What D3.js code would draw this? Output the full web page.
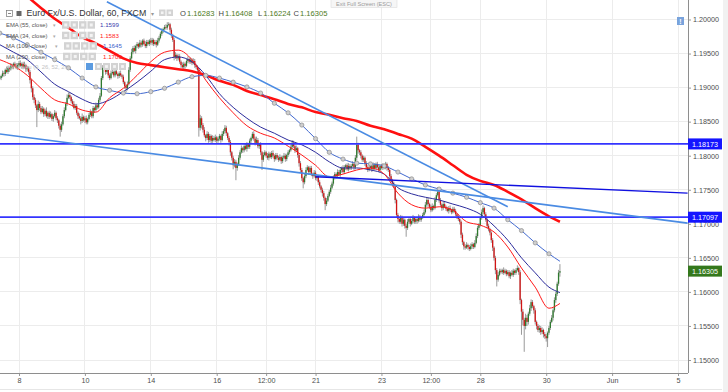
<!DOCTYPE html>
<html>
<head>
<meta charset="utf-8">
<title>Euro Fx/U.S. Dollar, 60</title>
<script src="https://cdn.jsdelivr.net/npm/d3@7"></script>
<style>
  body { margin: 0; background: #fff; }
  text { font-family: "Liberation Sans", Arial, sans-serif; }
</style>
</head>
<body>
<svg width="728" height="392" id="mainsvg"></svg>
<script>
// hourly bars, bar 0 = 8 May 00:00, weekends dropped
const firstBar = -14;
const closes = [
  1.1914, 1.1917, 1.1921, 1.1920, 1.1926, 1.1923, 1.1929, 1.1927, 1.1932, 1.1930, 1.1935, 1.1932, 1.1929, 1.1933,
  1.1936, 1.1932, 1.1935, 1.1930, 1.1933, 1.1927, 1.1929,
  1.1923, 1.1911, 1.1899, 1.1886, 1.1882,
  1.1874, 1.1867, 1.1876, 1.1870,
  1.1864, 1.1869, 1.1861, 1.1866, 1.1858, 1.1863, 1.1857, 1.1861, 1.1854, 1.1858, 1.1863, 1.1855, 1.1852,
  1.1844, 1.1838, 1.1846,
  1.1858, 1.1867, 1.1876, 1.1885,
  1.1889, 1.1886,
  1.1880, 1.1876, 1.1870, 1.1873,
  1.1863, 1.1858, 1.1855, 1.1851, 1.1857, 1.1852, 1.1855, 1.1849, 1.1854,
  1.1860, 1.1864, 1.1858,
  1.1870, 1.1867, 1.1874, 1.1871,
  1.1882, 1.1888,
  1.1914, 1.1929,
  1.1932, 1.1923, 1.1926,
  1.1918, 1.1914, 1.1921,
  1.1923, 1.1918, 1.1924, 1.1920, 1.1917, 1.1921, 1.1918, 1.1916,
  1.1908, 1.1902, 1.1899, 1.1905,
  1.1926, 1.1943, 1.1952,
  1.1958, 1.1954, 1.1961, 1.1964,
  1.1960, 1.1966, 1.1963, 1.1969, 1.1964, 1.1961, 1.1967,
  1.1964, 1.1969, 1.1966, 1.1970,
  1.1964, 1.1967, 1.1963, 1.1969, 1.1973,
  1.1979, 1.1983, 1.1986, 1.1989, 1.1988,
  1.1992, 1.1993, 1.1985,
  1.1977, 1.1970,
  1.1945,
  1.1948, 1.1943, 1.1946,
  1.1938, 1.1933, 1.1930, 1.1935, 1.1932,
  1.1939, 1.1942, 1.1938,
  1.1941, 1.1936, 1.1939, 1.1933,
  1.1930, 1.1926,
  1.1841,
  1.1855, 1.1845,
  1.1838, 1.1830, 1.1826, 1.1832, 1.1823,
  1.1829, 1.1822, 1.1826,
  1.1823, 1.1827, 1.1822, 1.1825,
  1.1829, 1.1823, 1.1832, 1.1836, 1.1841,
  1.1833, 1.1826, 1.1820,
  1.1805, 1.1797, 1.1786, 1.1791,
  1.1782, 1.1788, 1.1797,
  1.1805, 1.1811, 1.1808, 1.1814, 1.1810, 1.1817, 1.1813,
  1.1822, 1.1826, 1.1832, 1.1825,
  1.1819, 1.1823, 1.1814, 1.1817,
  1.1805, 1.1794, 1.1801,
  1.1805, 1.1800, 1.1797, 1.1803, 1.1798, 1.1804, 1.1800, 1.1795, 1.1801, 1.1797,
  1.1794, 1.1798, 1.1792, 1.1797, 1.1800, 1.1795, 1.1801,
  1.1805, 1.1808, 1.1813, 1.1819,
  1.1814, 1.1808, 1.1811,
  1.1801, 1.1789, 1.1779,
  1.1767, 1.1761, 1.1770,
  1.1779, 1.1783, 1.1776, 1.1782,
  1.1773, 1.1770, 1.1775, 1.1767, 1.1769,
  1.1761, 1.1755, 1.1750, 1.1745,
  1.1738, 1.1729, 1.1734, 1.1741,
  1.1747, 1.1753, 1.1759,
  1.1767, 1.1773, 1.1770, 1.1776, 1.1772,
  1.1779, 1.1782, 1.1776, 1.1783, 1.1786, 1.1780, 1.1785, 1.1782,
  1.1785, 1.1788, 1.1783,
  1.1797, 1.1816, 1.1808, 1.1805,
  1.1800, 1.1794, 1.1797,
  1.1789, 1.1783, 1.1779, 1.1782,
  1.1785, 1.1780, 1.1786, 1.1782, 1.1788, 1.1783, 1.1779, 1.1785, 1.1782, 1.1786, 1.1783,
  1.1788, 1.1782, 1.1779,
  1.1770, 1.1764, 1.1759, 1.1755,
  1.1735, 1.1713, 1.1707, 1.1703,
  1.1709, 1.1700, 1.1706, 1.1697,
  1.1694, 1.1703, 1.1707, 1.1700, 1.1704, 1.1709, 1.1703,
  1.1707, 1.1704, 1.1710, 1.1706, 1.1709, 1.1713, 1.1717,
  1.1728, 1.1735, 1.1729, 1.1725,
  1.1720, 1.1726, 1.1723, 1.1735,
  1.1742, 1.1747, 1.1735,
  1.1728, 1.1723, 1.1729, 1.1725,
  1.1722, 1.1719, 1.1723, 1.1720, 1.1717, 1.1722, 1.1719,
  1.1714, 1.1711, 1.1707, 1.1703,
  1.1684, 1.1673, 1.1667,
  1.1665, 1.1669, 1.1666, 1.1663, 1.1667, 1.1670, 1.1666, 1.1672,
  1.1682, 1.1694, 1.1698,
  1.1709, 1.1717, 1.1723, 1.1714,
  1.1706, 1.1697, 1.1692, 1.1687,
  1.1676, 1.1665, 1.1650, 1.1632,
  1.1618, 1.1625, 1.1631,
  1.1629, 1.1632, 1.1628, 1.1631,
  1.1626, 1.1629, 1.1623, 1.1628, 1.1625, 1.1631, 1.1628,
  1.1632, 1.1635, 1.1629,
  1.1588, 1.1571, 1.1559,
  1.1550, 1.1562, 1.1556, 1.1568,
  1.1576, 1.1585, 1.1579, 1.1573,
  1.1556, 1.1550, 1.1544, 1.1547,
  1.1541, 1.1544, 1.1538, 1.1535,
  1.1532, 1.1540, 1.1547,
  1.1556, 1.1562, 1.1573,
  1.1588, 1.1597,
  1.1612, 1.16283, 1.16305
];
// wick length above / below the body, in pips
const wickHi = [
  3,2,4,3,2,5,3,2,4,3,2,3,4,3, 3,4,2,3,5,2,3, 2,3,2,3,4, 3,2,5,3,
  3,4,2,3,5,2,3,4,2,3,4,2,3, 2,3,4, 3,4,3,5, 4,3, 2,3,4,3,
  3,2,4,3,5,2,3,4,2, 3,4,2, 3,2,4,3, 3,4, 3,4, 4,2,3, 2,3,4,
  3,2,4,3,2,3,4,2, 3,2,3,4, 4,3,5, 3,4,2,3, 2,4,3,2,3,4,3, 3,2,4,3,
  2,3,3,4,3, 3,4,2,3,4, 4,3,2, 3,2, 3, 4,2,3, 3,2,4,3,2, 3,4,2,
  3,2,4,3, 2,3, 3, 5,3, 3,4,2,4,3, 3,2,4, 3,4,2,3, 3,2,4,3,4,
  3,2,3, 3,2,3,4, 3,2,4, 3,4,2,3,4,3,2, 3,2,3,4, 3,5,3,2, 3,2,4,
  3,2,4,3,2,3,4,2,3,3, 3,4,2,3,4,3,2, 3,2,3,4, 3,2,4, 2,3,3, 3,2,4,
  4,3,2,3, 3,2,4,3,2, 2,3,2,3, 3,2,4,3, 3,4,3, 4,3,2,4,3,
  3,2,4,3,2,3,4,3, 3,4,2, 4,12,3,2, 3,2,3, 2,3,3,4,
  3,2,4,3,2,3,4,2,3,3,2, 3,2,3, 2,3,2,3, 3,2,3,2, 4,3,3,2,
  3,4,3,2,3,4,2, 3,2,4,3,2,3,4, 4,3,3,2, 3,4,2,4, 3,7,2, 3,2,4,3,
  2,3,3,4,2,3,3, 3,2,3,2, 2,3,2, 3,4,2,3,4,3,2,4, 4,3,3, 3,4,4,2,
  3,2,3,2, 2,3,2,3, 3,4,3, 3,2,4,3, 2,3,3,2,4,3,2, 3,4,2, 3,2,4,
  3,6,4,3, 5,4,3,2, 3,2,3,4, 3,4,2,3, 3,2,3, 3,4,3, 4,3, 3,4,10.3
];
const wickLo = [
  2,3,2,4,3,2,3,4,2,3,3,2,2,3, 3,2,4,3,2,4,3, 4,5,6,4,5, 4,25,3,4,
  3,2,4,3,2,4,3,2,3,4,2,3,4, 4,10,3, 2,3,2,3, 2,3, 3,4,2,3,
  3,4,2,5,3,2,4,3,3, 2,3,3, 3,4,2,3, 2,3, 2,3, 3,4,3, 4,3,2,
  2,3,3,2,4,3,2,3, 3,4,6,3, 2,3,2, 3,2,4,3, 3,2,4,3,2,3,3, 2,3,3,4,
  3,2,4,2,3, 2,3,3,2,3, 3,2,4, 4,3, 5, 3,4,3, 3,4,2,3,4, 2,3,3,
  3,3,2,4, 3,4, 13, 4,5, 4,3,5,3,4, 3,4,3, 2,3,4,3, 3,4,2,3,3,
  4,3,5, 5,4,6,3, 18,4,3, 3,2,4,3,2,4,3, 3,4,2,3, 4,3,3,4, 4,15,3,
  2,3,3,4,2,3,3,4,2,3, 3,2,4,3,2,4,3, 3,3,2,3, 3,4,3, 4,5,4, 4,9,3,
  3,2,4,3, 3,4,2,3,4, 4,3,4,5, 4,9,3,2, 2,3,2, 3,2,4,3,2,
  3,4,2,3,4,2,3,3, 3,2,4, 3,4,5,4, 4,3,3, 4,3,3,2,
  3,4,2,3,3,2,3,4,2,3,3, 3,4,3, 4,3,4,3, 5,4,5,3, 3,4,3,4,
  13,3,3,4,2,3,3, 3,4,2,3,3,2,3, 2,3,4,3, 3,2,3,2, 3,2,4, 3,4,3,2,
  3,2,4,3,3,2,3, 3,4,3,4, 5,4,5, 3,2,4,3,2,4,3,2, 2,3,3, 2,3,3,4,
  3,4,3,4, 4,5,4,6, 10,3,2, 2,3,3,2, 3,2,3,4,2,3,3, 3,2,4, 6,34,8,
  38,5,6,4, 3,4,3,5, 4,5,3,4, 4,3,5,4, 5,13,3, 3,2,4, 3,4, 3,3,5.9
];

// indicator values read every 10 bars (+ last bar)
const maBars = [-14, -4, 6, 16, 26, 36, 46, 56, 66, 76, 86, 96, 106, 116, 126, 136, 146, 156, 166, 176,
  186, 196, 206, 216, 226, 236, 246, 256, 266, 276, 286, 296, 306, 316, 326, 336, 346, 356, 366, 376, 386, 394];
const ema55 = [1.1963, 1.1952, 1.1941, 1.1923, 1.1905, 1.1894, 1.1883, 1.1876, 1.1882, 1.1894, 1.1908, 1.1924,
  1.1941, 1.1945, 1.1938, 1.1918, 1.1891, 1.1871, 1.1855, 1.1842, 1.1833, 1.1823, 1.1816, 1.1805, 1.1791,
  1.1782, 1.1782, 1.1779, 1.1773, 1.1753, 1.1744, 1.1739, 1.1735, 1.1729, 1.1723, 1.1714, 1.1697, 1.1676,
  1.1650, 1.1628, 1.1607, 1.1599];
const ema34 = [1.1941, 1.1932, 1.1918, 1.1899, 1.1882, 1.1876, 1.1867, 1.1864, 1.1885, 1.1899, 1.1918, 1.1938,
  1.1952, 1.1955, 1.1941, 1.1911, 1.1885, 1.1863, 1.1844, 1.1833, 1.1826, 1.1814, 1.1801, 1.1786, 1.1769,
  1.1773, 1.1779, 1.1782, 1.1773, 1.1745, 1.1728, 1.1723, 1.1725, 1.1720, 1.1703, 1.1698, 1.1688, 1.1666,
  1.1635, 1.1607, 1.1576, 1.1583];
const ma100 = [1.1980, 1.1973, 1.1963, 1.1952, 1.1941, 1.1929, 1.1914, 1.1901, 1.1896, 1.1892, 1.1891, 1.1894,
  1.1899, 1.1908, 1.1916, 1.1918, 1.1914, 1.1908, 1.1901, 1.1892, 1.1877, 1.1863, 1.1845, 1.1825, 1.1805,
  1.1795, 1.1789, 1.1788, 1.1785, 1.1776, 1.1766, 1.1757, 1.1751, 1.1745, 1.1739, 1.1731, 1.1723, 1.1706,
  1.1690, 1.1672, 1.1656, 1.1645];
const ma200 = [1.2070, 1.2052, 1.2034, 1.2017, 1.2001, 1.1988, 1.1974, 1.1965, 1.1954, 1.1943, 1.1936, 1.1933,
  1.1930, 1.1927, 1.1924, 1.1918, 1.1910, 1.1904, 1.1895, 1.1889, 1.1883, 1.1876, 1.1871, 1.1864, 1.1860,
  1.1855, 1.1851, 1.1844, 1.1839, 1.1832, 1.1825, 1.1813, 1.1800, 1.1786, 1.1772, 1.1763, 1.1757, 1.1747,
  1.1736, 1.1723, 1.1711, 1.1703];

// drawings: [bar, price] -> [bar, price]
const trendLight = [[[64, 1.2026], [356, 1.1725]], [[-14, 1.1832], [487, 1.1701]]];
const trendDark = [[[216, 1.1769], [487, 1.1745]]];
const levels = [1.18173, 1.17097];
const lastPrice = 1.16305;
const ohlc = ['O1.16283', 'H1.16408', 'L1.16224', 'C1.16305'];

const priceTicks = [1.15, 1.155, 1.16, 1.165, 1.17, 1.175, 1.18, 1.185, 1.19, 1.195, 1.20];
const timeTicks = [0, 48, 96, 144, 180, 216, 264, 300, 336, 384, 432, 480];
const timeLabels = ['8', '10', '14', '16', '12:00', '21', '23', '12:00', '28', '30', 'Jun', '5'];

const svg = d3.select('#mainsvg');
const plotR = 688, plotB = 373;

const x = d3.scaleLinear().domain([0, 480]).range([19, 678]);
const y = d3.scaleLinear().domain([1.15, 1.20]).range([360, 19.5]);

svg.append('rect').attr('width', 728).attr('height', 392).attr('fill', '#fff');
svg.append('rect').attr('x', 723).attr('width', 5).attr('height', 392).attr('fill', '#f1f1f1');

svg.append('defs').append('clipPath').attr('id', 'clip')
  .append('rect').attr('width', plotR).attr('height', plotB);

// grid
const grid = svg.append('g').attr('shape-rendering', 'crispEdges');
grid.selectAll('.hgrid').data(priceTicks).join('line').attr('class', 'hgrid')
  .attr('x1', 0).attr('x2', plotR).attr('y1', d => y(d)).attr('y2', d => y(d))
  .attr('stroke', '#ececec');
grid.selectAll('.vgrid').data(timeTicks).join('line').attr('class', 'vgrid')
  .attr('x1', d => x(d)).attr('x2', d => x(d)).attr('y1', 0).attr('y2', plotB)
  .attr('stroke', '#ececec');

// candles
const bars = closes.map((c, k) => {
  const o = k === 0 ? c : closes[k - 1];
  return {
    i: firstBar + k, o, c,
    h: Math.max(o, c) + (wickHi[k] || 0) / 1e4,
    l: Math.min(o, c) - (wickLo[k] || 0) / 1e4
  };
});
const cg = svg.append('g').attr('clip-path', 'url(#clip)');
cg.selectAll('.wick').data(bars).join('line').attr('class', 'wick')
  .attr('x1', d => x(d.i)).attr('x2', d => x(d.i))
  .attr('y1', d => y(d.h)).attr('y2', d => y(d.l))
  .attr('stroke', '#808080').attr('stroke-width', 0.8);
cg.selectAll('.body').data(bars).join('rect').attr('class', 'body')
  .attr('x', d => x(d.i) - 0.65).attr('width', 1.3)
  .attr('y', d => y(Math.max(d.o, d.c)))
  .attr('height', d => Math.max(0.7, Math.abs(y(d.o) - y(d.c))))
  .attr('fill', d => d.c >= d.o ? '#2e7a2e' : '#d01414');

// moving averages
const line = d3.line().x((d, k) => x(maBars[k])).y(d => y(d)).curve(d3.curveMonotoneX);
const mg = svg.append('g').attr('clip-path', 'url(#clip)').attr('fill', 'none');
mg.append('path').attr('d', line(ma200)).attr('stroke', '#ff1010').attr('stroke-width', 2.6);
mg.append('path').attr('d', line(ma100)).attr('stroke', '#4169d0').attr('stroke-width', 1);
mg.append('path').attr('d', line(ema55)).attr('stroke', '#2c2c9c').attr('stroke-width', 1);
mg.append('path').attr('d', line(ema34)).attr('stroke', '#ff1a1a').attr('stroke-width', 1);
mg.selectAll('.mk').data(ma100.slice(0, -1)).join('circle').attr('class', 'mk')
  .attr('cx', (d, k) => x(maBars[k])).attr('cy', d => y(d)).attr('r', 2.1)
  .attr('fill', '#cfcfcf').attr('stroke', '#8c8c8c').attr('stroke-width', 0.7);

// drawings
const dg = svg.append('g').attr('clip-path', 'url(#clip)');
dg.selectAll('.lvl').data(levels).join('line').attr('class', 'lvl')
  .attr('x1', 0).attr('x2', plotR).attr('y1', d => y(d)).attr('y2', d => y(d))
  .attr('stroke', '#3434ff').attr('stroke-width', 1.8);
dg.selectAll('.tl').data(trendLight).join('line').attr('class', 'tl')
  .attr('x1', d => x(d[0][0])).attr('y1', d => y(d[0][1]))
  .attr('x2', d => x(d[1][0])).attr('y2', d => y(d[1][1]))
  .attr('stroke', '#4a8be3').attr('stroke-width', 1.6);
dg.selectAll('.td').data(trendDark).join('line').attr('class', 'td')
  .attr('x1', d => x(d[0][0])).attr('y1', d => y(d[0][1]))
  .attr('x2', d => x(d[1][0])).attr('y2', d => y(d[1][1]))
  .attr('stroke', '#1010e0').attr('stroke-width', 1.4);

// axes
const yAxis = svg.append('g').attr('transform', `translate(${plotR},0)`)
  .call(d3.axisRight(y).tickValues(priceTicks).tickFormat(d3.format('.5f')).tickSize(3).tickPadding(2));
const xAxis = svg.append('g').attr('transform', `translate(0,${plotB})`)
  .call(d3.axisBottom(x).tickValues(timeTicks).tickFormat((d, k) => timeLabels[k]).tickSize(3).tickPadding(2));
[yAxis, xAxis].forEach(a => {
  a.select('.domain').remove();
  a.selectAll('line').attr('stroke', '#999');
  a.selectAll('text').attr('fill', '#4d4d4d').style('font-size', '7.2px');
});
svg.append('line').attr('x1', plotR + 0.5).attr('x2', plotR + 0.5).attr('y1', 0).attr('y2', plotB)
  .attr('stroke', '#8e8e8e');
svg.append('line').attr('x1', 0).attr('x2', plotR).attr('y1', plotB + 0.5).attr('y2', plotB + 0.5)
  .attr('stroke', '#8e8e8e');
svg.append('line').attr('x1', 0).attr('x2', 722).attr('y1', 389.5).attr('y2', 389.5)
  .attr('stroke', '#e6e6e6');

// price tags on the scale
const tags = levels.map(v => ({ v, fill: '#1414ff' })).concat([{ v: lastPrice, fill: '#34781c' }]);
const tg = svg.append('g').selectAll('g').data(tags).join('g')
  .attr('transform', d => `translate(${plotR},${y(d.v)})`);
tg.append('rect').attr('y', -5.5).attr('width', 34).attr('height', 11).attr('fill', d => d.fill);
tg.append('text').attr('x', 4).attr('y', 2.6).attr('fill', '#fff').style('font-size', '7.2px')
  .text(d => d3.format('.5f')(d.v));

// "!" badge
svg.append('rect').attr('x', 677).attr('y', 17).attr('width', 7).attr('height', 8).attr('fill', '#79a3dc');
svg.append('text').attr('x', 680.5).attr('y', 23.5).attr('text-anchor', 'middle').attr('fill', '#fff')
  .style('font-size', '7px').style('font-weight', 'bold').text('!');

// tooltip
svg.append('rect').attr('x', 331).attr('y', -1).attr('width', 66).attr('height', 8.5)
  .attr('fill', '#f6f6f6').attr('stroke', '#dcdcdc').attr('stroke-width', 0.6);
svg.append('text').attr('x', 364).attr('y', 5.5).attr('text-anchor', 'middle').attr('fill', '#9a9a9a')
  .style('font-size', '5.6px').text('Exit Full Screen (ESC)');

// legend
const lg = svg.append('g');
function icons(x0, n, y0, s) {
  for (let k = 0; k < n; k++) {
    lg.append('rect').attr('x', x0 + k * (s + 1)).attr('y', y0).attr('width', s).attr('height', s)
      .attr('fill', '#d3d3d3');
    lg.append('rect').attr('x', x0 + k * (s + 1) + s * 0.3).attr('y', y0 + s * 0.3)
      .attr('width', s * 0.4).attr('height', s * 0.4).attr('fill', '#f4f4f4');
  }
}
lg.append('rect').attr('x', 6.5).attr('y', 10.5).attr('width', 6).attr('height', 6)
  .attr('fill', '#fff').attr('stroke', '#777').attr('stroke-width', 0.7);
lg.append('line').attr('x1', 8).attr('x2', 11).attr('y1', 13.5).attr('y2', 13.5).attr('stroke', '#555').attr('stroke-width', 0.7);
lg.append('rect').attr('x', 16.5).attr('y', 11).attr('width', 5).attr('height', 5).attr('fill', '#666');
lg.append('text').attr('x', 26.5).attr('y', 16.3).attr('fill', '#333').style('font-size', '8.8px')
  .text('Euro Fx/U.S. Dollar, 60, FXCM');
lg.append('text').attr('x', 151).attr('y', 15.5).attr('fill', '#999').style('font-size', '6px').text('▾');
icons(159, 2, 9.5, 6.5);
const ohlcX = [180, 218.5, 258, 293.5];
ohlc.forEach((t, k) => {
  const el = lg.append('text').attr('x', ohlcX[k]).attr('y', 16.2).style('font-size', '7.6px');
  el.append('tspan').attr('fill', '#444').text(t[0]);
  el.append('tspan').attr('dx', 1).attr('fill', '#4d7a22').text(t.slice(1));
});

const rows = [
  { name: 'EMA (55, close)', v: ema55[ema55.length - 1], color: '#3c3cae', ix: 62, vx: 100 },
  { name: 'EMA (34, close)', v: ema34[ema34.length - 1], color: '#ff2020', ix: 62, vx: 100 },
  { name: 'MA (100, close)', v: ma100[ma100.length - 1], color: '#3f63cc', ix: 64, vx: 103 },
  { name: 'MA (200, close)', v: ma200[ma200.length - 1], color: '#ff2020', ix: 63, vx: 103 }
];
rows.forEach((r, k) => {
  const cy = 25 + k * 10.5;
  lg.append('text').attr('x', 6).attr('y', cy + 2.1).attr('fill', '#555').style('font-size', '5.9px').text(r.name);
  lg.append('text').attr('x', r.ix - 9).attr('y', cy + 2).attr('fill', '#aaa').style('font-size', '4.5px').text('▾');
  icons(r.ix, 4, cy - 3.8, 7.5);
  lg.append('text').attr('x', r.vx).attr('y', cy + 2.2).attr('fill', r.color).style('font-size', '6.2px')
    .text(r.v.toFixed(4));
});
lg.append('text').attr('x', 8).attr('y', 68.7).attr('fill', '#c4c4c4').style('font-size', '5.9px')
  .text('Ichimoku (9, 26, 52, 26)');
lg.append('rect').attr('x', 86).attr('y', 63).attr('width', 7).attr('height', 7).attr('fill', '#5b9be0');
icons(95, 4, 63, 7);
</script>
</body>
</html>
